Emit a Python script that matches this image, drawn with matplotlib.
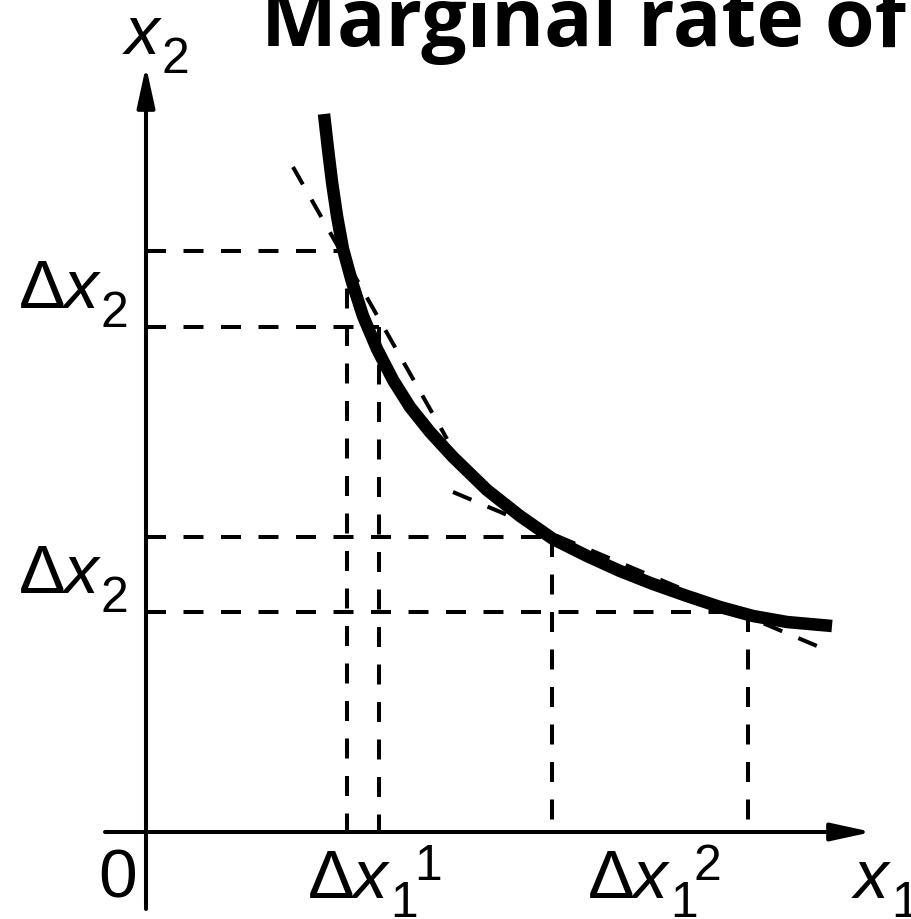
import matplotlib
matplotlib.use("Agg")
import matplotlib.pyplot as plt

# indifference curve, read point by point (origin at the axes crossing)
curve_x1 = [1.78, 1.82, 1.86, 1.91, 1.97, 2.06, 2.17, 2.31, 2.47, 2.64, 2.84, 3.07,
            3.41, 3.74, 4.07, 4.41, 4.74, 5.07, 5.41, 5.74, 6.07, 6.41, 6.86]
curve_x2 = [7.18, 6.83, 6.50, 6.16, 5.83, 5.50, 5.16, 4.83, 4.52, 4.25, 4.00, 3.75,
            3.42, 3.16, 2.93, 2.76, 2.61, 2.48, 2.36, 2.25, 2.16, 2.10, 2.06]

# points whose coordinates are projected onto both axes
guide_x1 = [2.01, 2.33, 4.06, 6.02]
guide_x2 = [5.81, 5.05, 2.95, 2.20]

# tangent segments (start/end)
tangent1_x1 = [1.47, 3.01]
tangent1_x2 = [6.65, 3.93]
tangent2_x1 = [3.07, 6.71]
tangent2_x2 = [3.40, 1.86]

title = "Marginal rate of"

plt.rcParams["lines.scale_dashes"] = False
dash = (0, (14.4, 12.6))

fig = plt.figure(figsize=(9.12, 9.2), dpi=100)
ax = fig.add_axes([0, 0, 1, 1])
ax.set_xlim(-1.46, 7.66)
ax.set_ylim(-0.87, 8.33)
ax.axis("off")

# axes with arrows
arrow = dict(arrowstyle="-|>,head_length=0.55,head_width=0.12", lw=2.9,
             color="black", mutation_scale=45, shrinkA=0, shrinkB=0)
ax.annotate("", xy=(0, 7.66), xytext=(0, -0.77), arrowprops=arrow)
ax.annotate("", xy=(7.26, 0), xytext=(-0.41, 0), arrowprops=arrow)

# dashed projections
for gx, gy in zip(guide_x1, guide_x2):
    ax.plot([0, gx], [gy, gy], color="black", lw=2.9, linestyle=dash, dash_capstyle="butt")
    ax.plot([gx, gx], [gy, 0], color="black", lw=2.9, linestyle=dash, dash_capstyle="butt")

ax.plot(tangent1_x1, tangent1_x2, color="black", lw=2.9, linestyle=dash, dash_capstyle="butt")
ax.plot(tangent2_x1, tangent2_x2, color="black", lw=2.9, linestyle=dash, dash_capstyle="butt")

ax.plot(curve_x1, curve_x2, color="black", lw=9, solid_capstyle="butt",
        solid_joinstyle="round")

# labels: upright Δ and digits, italic variable x
lab = dict(family="Liberation Sans", color="black", va="baseline", ha="left")
big, small = 50, 36


def var(x, y, sub, sup=None, delta=False):
    if delta:
        ax.text(x, y, "Δ", fontsize=big, **lab)
        x += 0.45
    ax.text(x, y, "x", fontsize=big, style="italic", **lab)
    ax.text(x + 0.37, y - 0.19, sub, fontsize=small, **lab)
    if sup:
        ax.text(x + 0.61, y + 0.18, sup, fontsize=small, **lab)


var(-0.21, 7.79, "2")
var(-1.27, 5.25, "2", delta=True)
var(-1.27, 2.40, "2", delta=True)
var(1.62, -0.65, "1", "1", delta=True)
var(4.42, -0.65, "1", "2", delta=True)
var(7.08, -0.65, "1")
ax.text(-0.48, -0.65, "0", fontsize=big, **lab)

ax.text(1.15, 7.87, title, family="Open Sans", fontweight="bold", fontsize=58,
        va="baseline", ha="left", color="black")

fig.savefig("out.png", dpi=100)
